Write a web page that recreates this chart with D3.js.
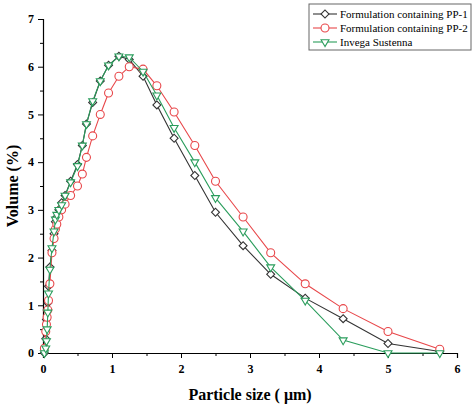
<!DOCTYPE html>
<html><head><meta charset="utf-8">
<script src="https://cdn.jsdelivr.net/npm/d3@7"></script>
<style>body{margin:0;background:#fff}text{font-family:"Liberation Serif",serif}</style>
</head><body><svg id="c" width="474" height="410"></svg>
<script>
var sizes = [0.02,0.04,0.05,0.06,0.07,0.08,0.1,0.13,0.16,0.18,0.2,0.23,0.27,0.32,0.4,0.5,0.57,0.63,0.72,0.83,0.95,1.1,1.25,1.45,1.65,1.9,2.2,2.5,2.9,3.3,3.8,4.35,5.0,5.75];
var pp1 = [0,0.3,0.7,0.9,1.05,1.4,1.8,2.15,2.5,2.75,2.85,3.0,3.15,3.3,3.6,3.95,4.35,4.8,5.25,5.7,6.03,6.22,6.15,5.8,5.2,4.5,3.72,2.95,2.25,1.65,1.15,0.72,0.2,0.03];
var pp2 = [0.1,0.45,0.6,0.75,0.9,1.1,1.45,2.1,2.4,2.6,2.7,2.85,3.0,3.12,3.3,3.5,3.75,4.1,4.55,5.0,5.45,5.8,6.0,5.95,5.6,5.05,4.35,3.6,2.85,2.1,1.45,0.93,0.45,0.08];
var inv = [0,0.1,0.25,0.5,0.85,1.25,1.75,2.2,2.55,2.8,2.9,3.0,3.1,3.3,3.58,3.92,4.35,4.8,5.28,5.7,6.03,6.22,6.2,5.9,5.4,4.72,4.0,3.25,2.55,1.8,1.1,0.27,0,0];
var names = ["Formulation containing PP-1","Formulation containing PP-2","Invega Sustenna"];
var colors = ["#333333","#e8474a","#2a9d5c"];

var svg = d3.select("#c");
var x = d3.scaleLinear().domain([0,6]).range([43,457]);
var y = d3.scaleLinear().domain([0,7]).range([353,19]);

svg.append("g").attr("transform","translate(0,353)")
  .call(d3.axisBottom(x).ticks(6).tickSize(5).tickPadding(6))
  .call(function(g){g.selectAll("text").attr("font-size",12).attr("font-weight","bold");});
svg.append("g").attr("transform","translate(0,353)")
  .call(d3.axisBottom(x).tickValues(d3.range(0.5,6,1)).tickSize(3).tickFormat(""))
  .call(function(g){g.select(".domain").remove();});
svg.append("g").attr("transform","translate(43,0)")
  .call(d3.axisLeft(y).ticks(7).tickSize(5).tickPadding(4))
  .call(function(g){g.selectAll("text").attr("font-size",12).attr("font-weight","bold");});
svg.append("g").attr("transform","translate(43,0)")
  .call(d3.axisLeft(y).tickValues(d3.range(0.5,7,1)).tickSize(3).tickFormat(""))
  .call(function(g){g.select(".domain").remove();});
svg.selectAll(".domain").attr("stroke","#000").attr("stroke-width",1.2);

svg.append("text").attr("x",250).attr("y",400).attr("text-anchor","middle")
  .attr("font-size",16).attr("font-weight","bold").text("Particle size ( μm)");
svg.append("text").attr("transform","translate(18,186) rotate(-90)").attr("text-anchor","middle")
  .attr("font-size",16).attr("font-weight","bold").text("Volume (%)");

var series = [pp1,pp2,inv];
var line = d3.line().x(function(d,i){return x(sizes[i]);}).y(function(d){return y(d);});
var sym = [d3.symbolDiamond2, d3.symbolCircle, d3.symbolTriangle2];

function marker(g, k, cx, cy){
  var s = g.append("path").attr("fill","white").attr("stroke",colors[k]).attr("stroke-width",1.1);
  if(k==0) s.attr("d",d3.symbol(d3.symbolSquare2,40)()).attr("transform","translate("+cx+","+cy+") rotate(45)");
  else if(k==1) s.attr("d",d3.symbol(d3.symbolCircle,50)()).attr("transform","translate("+cx+","+cy+")");
  else s.attr("d",d3.symbol(d3.symbolTriangle2,45)()).attr("transform","translate("+cx+","+cy+") rotate(180)");
}

series.forEach(function(vals,k){
  svg.append("path").datum(vals).attr("d",line).attr("fill","none").attr("stroke",colors[k]).attr("stroke-width",1.1);
  var g = svg.append("g");
  vals.forEach(function(v,i){ marker(g,k,x(sizes[i]),y(v)); });
});

var lg = svg.append("g");
lg.append("rect").attr("x",309).attr("y",4).attr("width",162).attr("height",46).attr("fill","white").attr("stroke","#666");
names.forEach(function(n,k){
  var yy = 14 + k*14;
  lg.append("line").attr("x1",313).attr("x2",337).attr("y1",yy).attr("y2",yy).attr("stroke",colors[k]).attr("stroke-width",1.1);
  marker(lg,k,325,yy);
  lg.append("text").attr("x",340).attr("y",yy+4).attr("font-size",11).text(n);
});
</script></body></html>
